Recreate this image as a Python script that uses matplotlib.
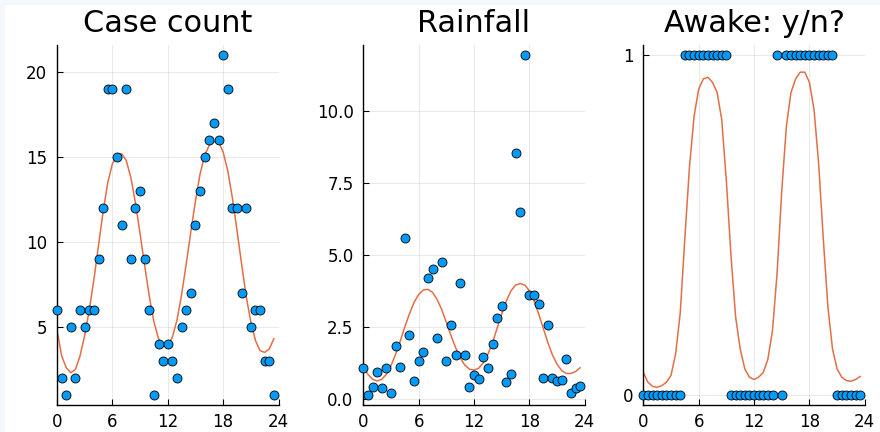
import matplotlib
matplotlib.use("Agg")
import matplotlib.pyplot as plt
from matplotlib.patches import Rectangle
import numpy as np

hours = [i * 0.5 for i in range(48)]

case_counts = [6, 2, 1, 5, 2, 6, 5, 6, 6, 9, 12, 19, 19, 15, 11, 19, 9, 12, 13, 9,
               6, 1, 4, 3, 4, 3, 2, 5, 6, 7, 11, 13, 15, 16, 17, 16, 21, 19, 12, 12,
               7, 12, 5, 6, 6, 3, 3, 1]
case_fit = [4.8, 3.3, 2.6, 2.3, 2.5, 3.3, 4.5, 6.0, 7.8, 9.8, 11.8, 13.5, 14.6, 15.1, 15.2, 14.8,
            13.8, 12.3, 10.5, 8.6, 6.8, 5.3, 4.3, 3.9, 3.9, 4.4, 5.4, 6.9, 8.7, 10.6, 12.4, 14.0,
            15.1, 15.7, 15.9, 15.9, 15.3, 14.2, 12.6, 10.7, 8.7, 6.8, 5.3, 4.2, 3.6, 3.5, 3.7, 4.3]

rainfall = [1.06, 0.14, 0.40, 0.94, 0.37, 1.06, 0.20, 1.84, 1.12, 5.58, 2.20, 0.63,
            1.33, 1.61, 4.18, 4.50, 2.11, 4.75, 1.30, 2.58, 1.51, 4.03, 1.51, 0.40,
            0.83, 0.69, 1.44, 1.06, 1.89, 2.81, 3.21, 0.58, 0.87, 8.53, 6.49, 11.93,
            3.59, 3.62, 3.28, 0.74, 2.57, 0.74, 0.61, 0.67, 1.40, 0.21, 0.36, 0.44]
rain_fit = [1.10, 0.85, 0.68, 0.62, 0.68, 0.85, 1.15, 1.55, 2.00, 2.50, 2.95, 3.35,
            3.62, 3.78, 3.80, 3.70, 3.45, 3.10, 2.65, 2.20, 1.78, 1.42, 1.17, 1.03,
            1.00, 1.06, 1.25, 1.55, 1.95, 2.45, 2.95, 3.40, 3.75, 3.95, 4.00, 3.95,
            3.75, 3.40, 2.95, 2.45, 1.95, 1.52, 1.20, 0.98, 0.88, 0.88, 0.95, 1.08]

awake = [0, 0, 0, 0, 0, 0, 0, 0, 0, 1, 1, 1, 1, 1, 1, 1, 1, 1, 1, 0, 0, 0, 0, 0,
         0, 0, 0, 0, 0, 1, 0, 1, 1, 1, 1, 1, 1, 1, 1, 1, 1, 1, 0, 0, 0, 0, 0, 0]
awake_fit = [0.066, 0.037, 0.025, 0.022, 0.027, 0.037, 0.057, 0.12, 0.24, 0.46, 0.67, 0.82,
             0.90, 0.93, 0.935, 0.92, 0.89, 0.81, 0.63, 0.41, 0.23, 0.135, 0.076, 0.052,
             0.045, 0.052, 0.066, 0.105, 0.19, 0.36, 0.60, 0.79, 0.89, 0.93, 0.95, 0.95,
             0.92, 0.84, 0.68, 0.46, 0.26, 0.135, 0.076, 0.052, 0.042, 0.04, 0.045, 0.054]

titles = ["Case count", "Rainfall", "Awake: y/n?"]
xticks = [0, 6, 12, 18, 24]
yticks_list = [[5, 10, 15, 20], [0.0, 2.5, 5.0, 7.5, 10.0], [0, 1]]
ytick_labels = [["5", "10", "15", "20"], ["0.0", "2.5", "5.0", "7.5", "10.0"], ["0", "1"]]

W, H = 880, 432
fig = plt.figure(figsize=(W / 100, H / 100), dpi=100)
fig.patch.set_facecolor("#f4f7fc")
fig.add_artist(Rectangle((5 / W, 0), 1, (H - 5) / H, transform=fig.transFigure,
                         facecolor="white", edgecolor="none", zorder=0))

lefts = [57, 363.3, 643.3]
width = 221.5
bottom = (H - 405) / H
height = (405 - 45) / H

blue = "#009AFA"
orange = "#E26F46"

for i, (ys, fit) in enumerate([(case_counts, case_fit), (rainfall, rain_fit), (awake, awake_fit)]):
    ax = fig.add_axes([lefts[i] / W, bottom, width / W, height])
    ax.set_facecolor("none")
    ax.plot(hours, fit, color=orange, lw=1.1, zorder=2)
    ax.scatter(hours, ys, s=42, color=blue, edgecolor="black", linewidth=0.6,
               zorder=4, clip_on=False)
    ax.set_xlim(0, 24)
    lo, hi = min(ys), max(ys)
    m = (hi - lo) * 0.03
    ax.set_ylim(lo - m, hi + m)
    ax.set_xticks(xticks)
    ax.set_xticklabels([str(t) for t in xticks])
    ax.set_yticks(yticks_list[i])
    ax.set_yticklabels(ytick_labels[i])
    for s in ["top", "right"]:
        ax.spines[s].set_visible(False)
    for s in ["left", "bottom"]:
        ax.spines[s].set_linewidth(1.0)
        ax.spines[s].set_color("black")
    ax.tick_params(direction="in", length=4.5, width=0.8, labelsize=12, colors="black")
    ax.tick_params(axis="x", pad=5.5)
    ax.tick_params(axis="y", pad=7)
    ax.grid(True, color="black", alpha=0.1, lw=0.6)
    ax.set_axisbelow(True)
    ax.set_title(titles[i], fontsize=21.8, pad=9)

fig.savefig("out.png", dpi=100, facecolor=fig.get_facecolor())
